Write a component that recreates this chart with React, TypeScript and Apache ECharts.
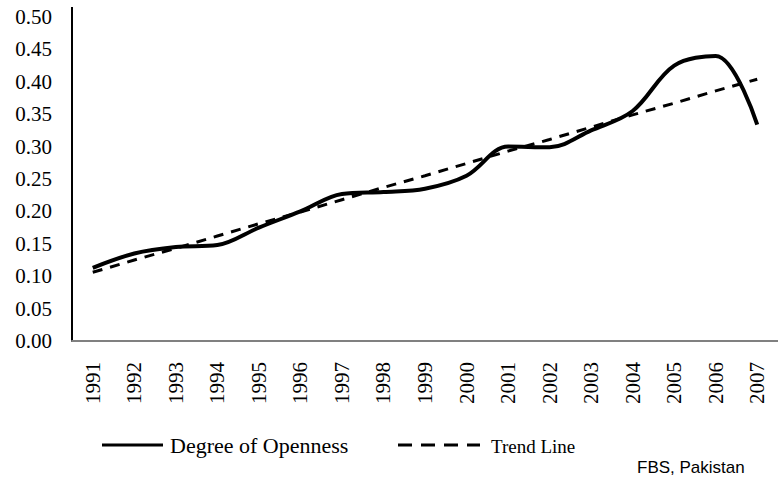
import React, { useEffect, useRef } from "react";
import * as echarts from "echarts";

const years = ["1991","1992","1993","1994","1995","1996","1997","1998","1999","2000","2001","2002","2003","2004","2005","2006","2007"];
const openness = [0.113, 0.135, 0.145, 0.148, 0.175, 0.200, 0.227, 0.230, 0.235, 0.255, 0.300, 0.299, 0.325, 0.355, 0.425, 0.440, 0.334];
const trend = [0.106, 0.125, 0.143, 0.162, 0.181, 0.199, 0.218, 0.237, 0.255, 0.274, 0.293, 0.311, 0.330, 0.349, 0.367, 0.386, 0.404];
const seriesNames = ["Degree of Openness", "Trend Line"];
const sourceNote = "FBS, Pakistan";

export default function App() {
  const ref = useRef<HTMLDivElement>(null);
  useEffect(() => {
    if (!ref.current) return;
    const chart = echarts.init(ref.current, undefined, { renderer: "svg" });
    const serif = "'Liberation Serif', 'Times New Roman', serif";
    chart.setOption({
      animation: false,
      backgroundColor: "#ffffff",
      grid: { left: 72, right: -7, top: 17, height: 324, containLabel: false },
      xAxis: {
        type: "category",
        data: years,
        boundaryGap: true,
        axisLine: { lineStyle: { color: "#808080", width: 2 } },
        axisTick: { show: false },
        axisLabel: { rotate: 90, margin: 21, color: "#000", fontFamily: serif, fontSize: 21, interval: 0 },
      },
      yAxis: {
        type: "value",
        min: 0,
        max: 0.5,
        interval: 0.05,
        axisLine: { show: true, lineStyle: { color: "#000", width: 2 } },
        axisTick: { show: false },
        splitLine: { show: false },
        axisLabel: { margin: 20, color: "#000", fontFamily: serif, fontSize: 21, formatter: (v: number) => v.toFixed(2) },
      },
      series: [
        {
          name: seriesNames[0],
          type: "line",
          data: openness,
          smooth: 0.35,
          symbol: "none",
          lineStyle: { color: "#000", width: 4 },
          z: 3,
        },
        {
          name: seriesNames[1],
          type: "line",
          data: trend,
          symbol: "none",
          lineStyle: { color: "#000", width: 3, type: [10, 8] },
          z: 2,
        },
      ],
      graphic: [
        { type: "line", shape: { x1: 72, y1: 7, x2: 72, y2: 18 }, style: { stroke: "#000", lineWidth: 2 } },
        { type: "line", shape: { x1: 102, y1: 445, x2: 163, y2: 445 }, style: { stroke: "#000", lineWidth: 3 } },
        { type: "text", x: 170, y: 445, style: { text: seriesNames[0], font: `22px ${serif}`, fill: "#000", textVerticalAlign: "middle" } },
        { type: "line", shape: { x1: 398, y1: 445, x2: 480, y2: 445 }, style: { stroke: "#000", lineWidth: 3, lineDash: [14, 9] } },
        { type: "text", x: 491, y: 446, style: { text: seriesNames[1], font: `19px ${serif}`, fill: "#000", textVerticalAlign: "middle" } },
        { type: "text", x: 637, y: 467, style: { text: sourceNote, font: "17px 'Liberation Sans', Arial, sans-serif", fill: "#000", textVerticalAlign: "middle" } },
      ],
    });
    return () => chart.dispose();
  }, []);
  return <div ref={ref} style={{ width: 778, height: 483, position: "absolute", left: 0, top: 0 }} />;
}
